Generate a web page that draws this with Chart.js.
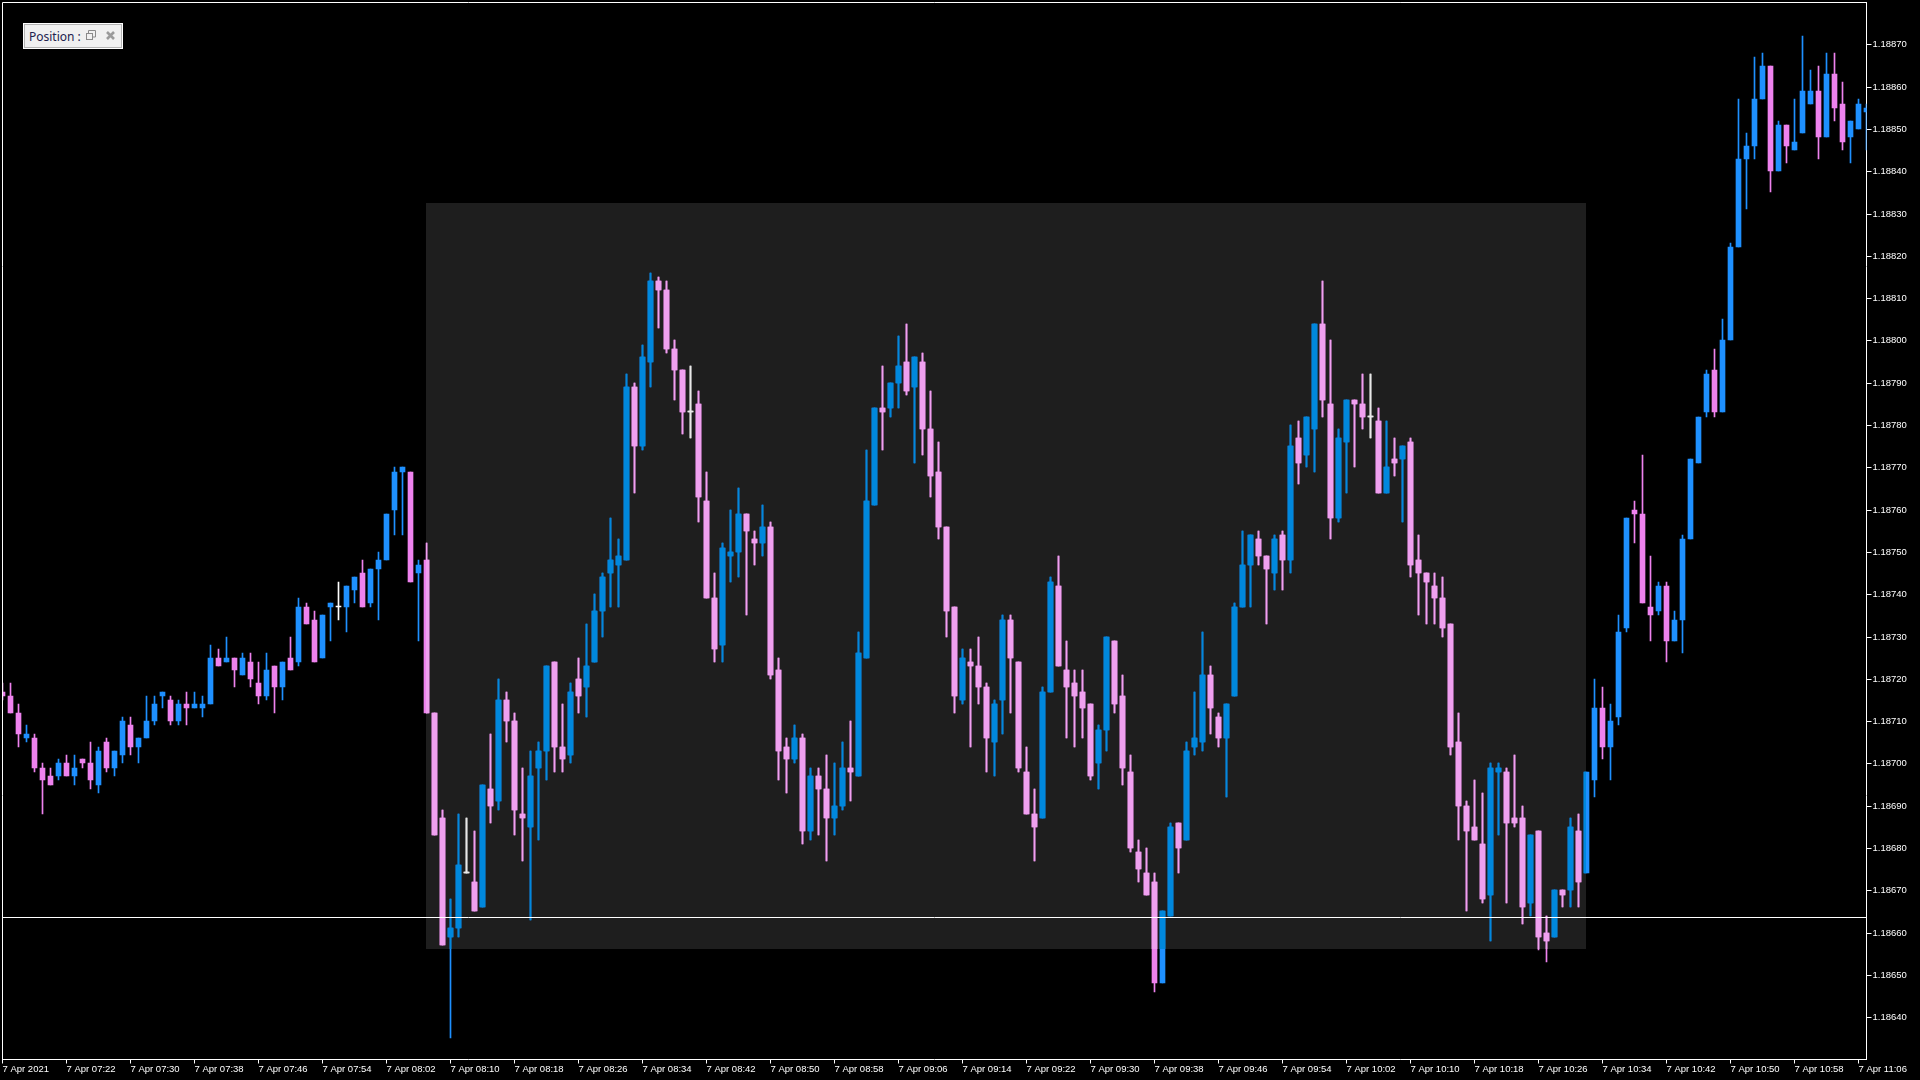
<!DOCTYPE html>
<html>
<head>
<meta charset="utf-8">
<title>EURUSD M1</title>
<script src="https://cdn.jsdelivr.net/npm/chart.js@4"></script>
<style>
  html, body { margin: 0; padding: 0; background: #000; overflow: hidden; }
  #wrap { position: relative; width: 1920px; height: 1080px; }
  canvas { display: block; }
  #pos {
    position: absolute; left: 24px; top: 24px; width: 96px; height: 22px;
    background: #f0f0f0; border: 1px solid #b4b4b4; outline: 1px solid #fff; outline-offset: 0;
    font: 12px "Noto Sans", sans-serif; color: #22224e;
  }
  #pos span { position: absolute; left: 4px; top: 3px; width: 54px; overflow: hidden; white-space: nowrap; }
  #pos svg { position: absolute; top: 0; left: 0; }
</style>
</head>
<body>
<div id="wrap">
  <canvas id="chart" width="1920" height="1080"></canvas>
  <div id="pos"><span>Position :</span>
    <svg width="96" height="22">
      <rect x="61.5" y="8.5" width="6" height="6" fill="none" stroke="#8a8a8a"/>
      <path d="M63.5 8V5.5H70.5V12H68" fill="none" stroke="#8a8a8a"/>
      <path d="M82 7L89 14M89 7L82 14" stroke="#9a9a9a" stroke-width="2.6"/>
    </svg>
  </div>
</div>
<script>
// prices are in points above BASE
const BASE = 1.186;

const opens = [117,116,112,106,106,99,97,97,100,97,
  101,100,95,105,99,102,109,104,106,110,
  116,115,110,114,113,113,114,125,124,125,
  121,124,119,116,123,118,125,124,137,134,
  125,137,137,137,141,145,138,146,148,160,
  169,169,145,148,112,87,59,61,74,72,
  66,94,91,115,110,88,85,99,103,124,
  104,102,120,118,124,136,145,147,148,189,
  175,195,214,212,198,193,183,185,162,139,
  128,149,150,159,153,152,156,122,104,101,
  106,84,97,94,87,90,99,97,125,161,
  184,184,190,195,189,195,179,169,156,137,
  115,124,123,118,105,115,134,124,98,88,
  87,117,142,122,119,117,114,100,108,129,
  116,98,79,74,72,48,64,86,82,104,
  105,121,111,106,116,137,147,153,149,145,
  154,148,177,173,179,204,185,158,176,186,
  185,182,181,164,172,172,176,148,145,142,
  139,133,105,90,85,81,69,98,98,87,
  87,67,84,60,59,70,70,84,74,96,
  113,104,111,132,160,159,137,136,142,129,
  134,153,171,183,193,183,200,222,243,246,
  257,265,240,251,245,249,256,259,248,263,
  256,248,250,254];

const closes = [116,112,107,107,99,96,95,100,97,99,
  100,96,103,99,103,110,104,106,110,114,
  117,110,114,113,114,114,125,123,125,122,
  125,120,116,122,118,124,122,137,133,124,
  135,138,137,142,144,137,146,148,159,169,
  170,143,147,112,83,57,61,76,74,65,
  95,90,115,110,89,87,97,103,123,104,
  101,117,116,123,136,144,148,149,189,175,
  196,214,212,198,193,183,183,163,139,127,
  151,150,159,155,152,156,121,103,101,106,
  84,97,94,87,90,99,98,126,162,184,
  183,190,194,188,196,179,168,156,136,116,
  125,123,118,106,114,134,125,99,88,85,
  117,143,123,118,116,113,97,108,130,114,
  99,80,75,69,48,65,85,80,103,106,
  121,113,106,114,137,147,154,149,146,153,
  148,175,171,182,204,186,158,177,186,185,
  182,182,164,170,171,175,147,145,143,139,
  132,104,90,84,82,68,99,99,86,86,
  66,83,59,58,70,69,85,72,98,113,
  104,110,131,158,159,138,135,142,129,134,
  153,172,182,192,183,200,222,243,246,257,
  265,240,251,246,247,259,259,248,263,255,
  247,252,256,255];

const highs = [119,119,114,109,107,100,99,101,102,102,
  101,105,104,106,103,111,111,106,116,116,
  117,116,115,117,117,116,128,127,130,125,
  126,126,124,126,123,124,130,139,138,136,
  135,138,143,142,144,148,146,150,159,170,
  170,169,148,152,112,89,68,88,87,84,
  95,107,120,117,112,99,103,105,123,124,
  114,119,125,133,140,145,158,153,192,190,
  199,216,215,214,200,193,194,188,169,145,
  152,160,165,159,155,161,157,125,106,109,
  107,99,99,102,100,105,110,131,174,184,
  194,190,201,204,196,197,188,176,156,137,
  127,127,130,119,115,135,135,124,104,94,
  118,144,149,129,122,122,114,109,130,129,
  121,102,82,80,74,65,86,86,105,117,
  131,123,112,114,138,155,154,155,149,154,
  155,180,181,182,204,214,200,179,186,186,
  192,192,184,181,177,175,177,154,145,145,
  144,133,112,91,96,93,100,100,99,102,
  90,83,84,64,70,70,87,88,98,120,
  118,114,135,158,162,173,149,143,143,136,
  154,172,182,193,198,205,223,257,249,267,
  268,265,252,251,257,272,264,265,268,268,
  261,252,257,256];

const lows = [115,112,104,105,98,88,95,96,97,95,
  99,94,93,98,97,100,102,100,106,109,
  113,109,109,109,113,111,114,123,124,118,
  121,118,114,115,112,115,122,123,133,124,
  125,129,134,131,138,137,137,134,148,154,
  154,143,129,112,83,57,35,59,74,65,
  66,86,89,105,83,77,63,82,96,98,
  98,100,112,111,124,130,137,137,148,164,
  174,189,203,197,186,178,177,157,139,124,
  124,143,144,135,147,149,120,96,93,100,
  81,82,83,77,83,89,91,97,125,161,
  174,182,184,187,171,173,163,153,130,112,
  114,104,114,98,97,107,112,98,88,77,
  87,117,123,106,104,106,96,94,103,112,
  95,79,72,69,46,48,64,74,82,102,
  103,107,104,92,116,137,137,147,133,141,
  141,145,166,170,169,182,153,157,164,170,
  179,177,164,164,168,157,144,135,133,133,
  130,102,82,65,82,67,58,83,67,85,
  62,64,56,53,59,66,66,66,74,92,
  101,96,109,131,152,138,129,135,124,129,
  126,153,171,182,182,183,200,222,231,243,
  257,235,240,242,245,249,256,243,248,252,
  245,242,250,245];

const xTickLabels = ["7 Apr 2021","7 Apr 07:22","7 Apr 07:30","7 Apr 07:38","7 Apr 07:46","7 Apr 07:54",
  "7 Apr 08:02","7 Apr 08:10","7 Apr 08:18","7 Apr 08:26","7 Apr 08:34","7 Apr 08:42","7 Apr 08:50",
  "7 Apr 08:58","7 Apr 09:06","7 Apr 09:14","7 Apr 09:22","7 Apr 09:30","7 Apr 09:38","7 Apr 09:46",
  "7 Apr 09:54","7 Apr 10:02","7 Apr 10:10","7 Apr 10:18","7 Apr 10:26","7 Apr 10:34","7 Apr 10:42",
  "7 Apr 10:50","7 Apr 10:58","7 Apr 11:06"];

const yTicks = [1.1864,1.1865,1.1866,1.1867,1.1868,1.1869,1.187,1.1871,1.1872,1.1873,1.1874,1.1875,
  1.1876,1.1877,1.1878,1.1879,1.188,1.1881,1.1882,1.1883,1.1884,1.1885,1.1886,1.1887];

// the grey rectangle object and the horizontal level on the chart
const boxBars = [53, 198];
const boxPrices = [1.186562, 1.188325];
const levelPrice = 1.186636;

const UP = "#1e90ff", DOWN = "#ee82ee", DOJI = "#ffffff";
const UP_BOX = "#0088dd", DOWN_BOX = "#efa0ef", DOJI_BOX = "#e8e8e8";

const price = p => +(BASE + p / 100000).toFixed(5);
const categories = opens.map((_, i) => i);
const bodies = opens.map((o, i) => [price(o), price(closes[i])]);
const wicks = lows.map((l, i) => [price(l), price(highs[i])]);

function barColor(i, up, down, doji) {
  if (closes[i] > opens[i]) return up;
  if (closes[i] < opens[i]) return down;
  return doji;
}

function boxArea(chart) {
  const x = chart.scales.x, y = chart.scales.y;
  const left = Math.floor(x.getPixelForValue(boxBars[0]));
  const right = Math.floor(x.getPixelForValue(boxBars[1]));
  const top = y.getPixelForValue(boxPrices[1]);
  const bottom = y.getPixelForValue(boxPrices[0]);
  return { left, top, width: right - left, height: bottom - top };
}

// rectangle, level line and the frame MT4 draws round the chart
const chartObjects = {
  id: "chartObjects",
  beforeDatasetsDraw(chart) {
    const b = boxArea(chart);
    chart.ctx.fillStyle = "#1e1e1e";
    chart.ctx.fillRect(b.left, b.top, b.width, b.height);
  },
  beforeDatasetDraw(chart, args) {
    if (!chart.data.datasets[args.index].inBox) return;
    const b = boxArea(chart), ctx = chart.ctx;
    ctx.save();
    ctx.beginPath();
    ctx.rect(b.left, b.top, b.width, b.height);
    ctx.clip();
  },
  afterDatasetDraw(chart, args) {
    if (chart.data.datasets[args.index].inBox) chart.ctx.restore();
  },
  afterDraw(chart) {
    const ctx = chart.ctx, a = chart.chartArea;
    const y = chart.scales.y.getPixelForValue(levelPrice);
    ctx.save();
    ctx.strokeStyle = "#ffffff";
    ctx.lineWidth = 1;
    ctx.beginPath();
    ctx.moveTo(a.left, y + 0.5);
    ctx.lineTo(a.right, y + 0.5);
    ctx.moveTo(a.left, a.bottom);
    ctx.lineTo(a.left, a.top);
    ctx.lineTo(a.right + 0.5, a.top);
    ctx.stroke();
    ctx.restore();
  }
};

// no room kept for half a label at the ends of an axis
function noLabelPadding(s) {
  s.paddingTop = 0;
  s.paddingBottom = 0;
  s.paddingLeft = 0;
  s.paddingRight = 0;
}

const candle = { grouped: false, clip: 0, borderWidth: 0 };

new Chart(document.getElementById("chart"), {
  type: "bar",
  plugins: [chartObjects],
  data: {
    labels: categories,
    datasets: [
      { ...candle, order: 0, inBox: true, data: bodies, barThickness: 5, minBarLength: 1,
        backgroundColor: c => barColor(c.dataIndex, UP_BOX, DOWN_BOX, DOJI_BOX) },
      { ...candle, order: 1, inBox: true, data: wicks, barThickness: 1,
        backgroundColor: c => barColor(c.dataIndex, UP_BOX, DOWN_BOX, DOJI_BOX) },
      { ...candle, order: 2, data: bodies, barThickness: 5, minBarLength: 1,
        backgroundColor: c => barColor(c.dataIndex, UP, DOWN, DOJI) },
      { ...candle, order: 3, data: wicks, barThickness: 1,
        backgroundColor: c => barColor(c.dataIndex, UP, DOWN, DOJI) }
    ]
  },
  options: {
    responsive: false,
    animation: false,
    devicePixelRatio: 1,
    events: [],
    layout: { padding: { left: 2.5, top: 2.5, right: 0, bottom: 0 } },
    plugins: { legend: { display: false }, tooltip: { enabled: false } },
    scales: {
      x: {
        offset: false,
        afterFit(s) { s.height = 20.5; noLabelPadding(s); },
        afterBuildTicks(s) { s.ticks = xTickLabels.map((_, i) => ({ value: i * 8 })); },
        grid: { display: true, drawOnChartArea: false, offset: false, color: "#fff", tickColor: "#fff", tickLength: 4 },
        border: { color: "#fff", width: 1 },
        ticks: {
          autoSkip: false, maxRotation: 0, minRotation: 0, align: "start", padding: 0,
          color: "#fff", font: { family: "Liberation Sans", size: 9.5 },
          callback: v => xTickLabels[v / 8]
        }
      },
      y: {
        position: "right",
        min: 1.186300,
        max: 1.188799,
        afterFit(s) { s.width = 53.5; noLabelPadding(s); },
        afterBuildTicks(s) { s.ticks = yTicks.map(v => ({ value: v })); },
        afterUpdate(s) {
          const raw = Object.getPrototypeOf(s).getPixelForValue;
          s.getPixelForValue = v => Math.round(raw.call(s, v));
        },
        grid: { display: true, drawOnChartArea: false, color: "#fff", tickColor: "#fff", tickLength: 5 },
        border: { color: "#fff", width: 1 },
        ticks: {
          padding: 1, color: "#fff", font: { family: "Liberation Sans", size: 9.5 },
          callback: v => v.toFixed(5)
        }
      }
    }
  }
});
</script>
</body>
</html>
